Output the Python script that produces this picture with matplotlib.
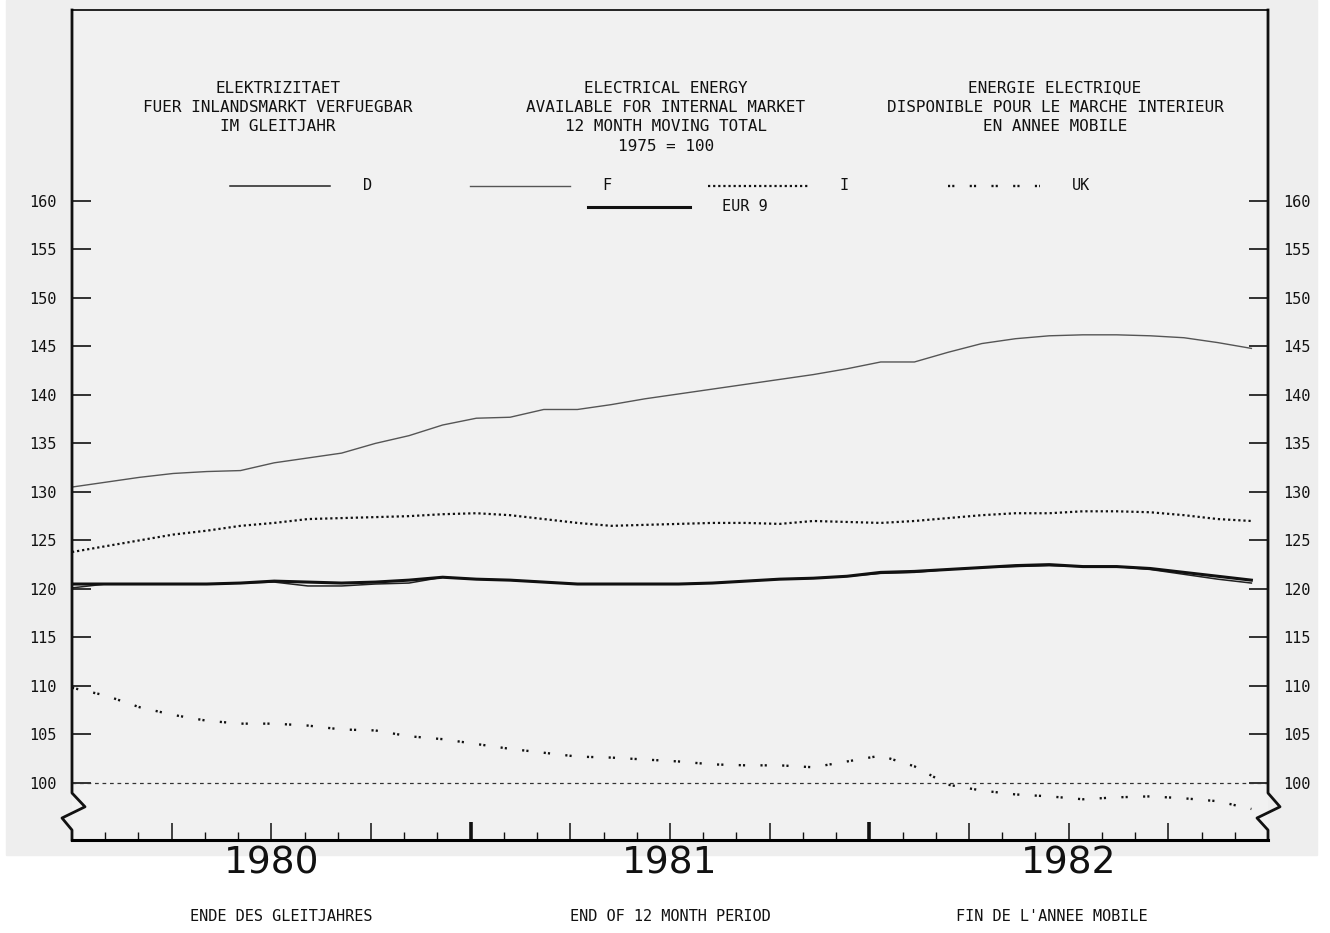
import numpy as np
import matplotlib
matplotlib.use("Agg")
import matplotlib.pyplot as plt
from matplotlib.patches import Rectangle

# 12-month moving totals, index 1975 = 100, one value per month Jan 1980 .. Dec 1982
month_idx = np.arange(36)

d_vals = [120.1, 120.5, 120.5, 120.5, 120.5, 120.6, 120.7, 120.3, 120.3, 120.5,
          120.6, 121.2, 121.0, 120.9, 120.7, 120.5, 120.5, 120.5, 120.5, 120.6,
          120.8, 121.0, 121.1, 121.3, 121.6, 121.7, 122.0, 122.2, 122.3, 122.4,
          122.3, 122.3, 122.0, 121.5, 121.0, 120.6]

f_vals = [130.5, 131.0, 131.5, 131.9, 132.1, 132.2, 133.0, 133.5, 134.0, 135.0,
          135.8, 136.9, 137.6, 137.7, 138.5, 138.5, 139.0, 139.6, 140.1, 140.6,
          141.1, 141.6, 142.1, 142.7, 143.4, 143.4, 144.4, 145.3, 145.8, 146.1,
          146.2, 146.2, 146.1, 145.9, 145.4, 144.8]

i_vals = [123.8, 124.4, 125.0, 125.6, 126.0, 126.5, 126.8, 127.2, 127.3, 127.4,
          127.5, 127.7, 127.8, 127.6, 127.2, 126.8, 126.5, 126.6, 126.7, 126.8,
          126.8, 126.7, 127.0, 126.9, 126.8, 127.0, 127.3, 127.6, 127.8, 127.8,
          128.0, 128.0, 127.9, 127.6, 127.2, 127.0]

uk_vals = [109.8, 109.0, 107.8, 107.0, 106.4, 106.1, 106.1, 105.9, 105.5, 105.4,
           104.8, 104.5, 104.0, 103.5, 103.1, 102.7, 102.6, 102.4, 102.2, 101.9,
           101.8, 101.8, 101.6, 102.2, 102.8, 101.7, 99.8, 99.2, 98.8, 98.6,
           98.3, 98.5, 98.6, 98.4, 98.1, 97.3]

eur_vals = [120.5, 120.5, 120.5, 120.5, 120.5, 120.6, 120.8, 120.7, 120.6, 120.7,
            120.9, 121.2, 121.0, 120.9, 120.7, 120.5, 120.5, 120.5, 120.5, 120.6,
            120.8, 121.0, 121.1, 121.3, 121.7, 121.8, 122.0, 122.2, 122.4, 122.5,
            122.3, 122.3, 122.1, 121.7, 121.3, 120.9]

years = ["1980", "1981", "1982"]
yticks = list(range(100, 165, 5))

title_de = "ELEKTRIZITAET\nFUER INLANDSMARKT VERFUEGBAR\nIM GLEITJAHR"
title_en = "ELECTRICAL ENERGY\nAVAILABLE FOR INTERNAL MARKET\n12 MONTH MOVING TOTAL\n1975 = 100"
title_fr = "ENERGIE ELECTRIQUE\nDISPONIBLE POUR LE MARCHE INTERIEUR\nEN ANNEE MOBILE"
foot_de = "ENDE DES GLEITJAHRES"
foot_en = "END OF 12 MONTH PERIOD"
foot_fr = "FIN DE L'ANNEE MOBILE"

mono = "DejaVu Sans Mono"
ink = "#111111"

# x position of each monthly point along the 36-month axis
xpos = month_idx * 35.5 / 35

fig = plt.figure(figsize=(13.3, 9.33), dpi=100, facecolor="white")
fig.patches.append(Rectangle((6 / 1330, 78 / 933), 1311 / 1330, 855 / 933,
                             transform=fig.transFigure, color="#eeeeee", zorder=-10))
ax = fig.add_axes([72 / 1330, 93 / 933, 1196 / 1330, 830 / 933])
ax.set_facecolor("#f1f1f1")

ax.set_xlim(0, 36)
ax.set_ylim(94.1, 179.7)

# series
ax.plot(xpos, f_vals, color="#555555", lw=1.0)
ax.plot(xpos, i_vals, color=ink, lw=1.6, linestyle=(0, (1.0, 1.3)))
ax.plot(xpos, uk_vals, color=ink, lw=1.7, linestyle=(0, (0.9, 0.9, 0.9, 6.5)))
ax.plot(xpos, d_vals, color="#222222", lw=1.1)
ax.plot(xpos, eur_vals, color=ink, lw=2.2)

# base line 1975 = 100
ax.axhline(100, color="#333333", lw=0.9, linestyle=(0, (3, 3)))

# frame: top line, thick bottom, side axes with break marks
for s in ["left", "right"]:
    ax.spines[s].set_visible(False)
ax.spines["top"].set_linewidth(1.2)
ax.spines["bottom"].set_linewidth(2.2)
ax.plot([0, 0, 13 / 1196, -10 / 1196, 0, 0], [1, 0.0566, 0.040, 0.0265, 0.012, 0],
        transform=ax.transAxes, color=ink, lw=2.0, clip_on=False)
ax.plot([1, 1, 1 + 12 / 1196, 1 - 11 / 1196, 1, 1], [1, 0.0566, 0.040, 0.0265, 0.012, 0],
        transform=ax.transAxes, color=ink, lw=2.0, clip_on=False)

# y axis ticks on both sides
ax.set_yticks(yticks)
ax.set_yticklabels([str(v) for v in yticks], fontfamily=mono)
ax.tick_params(axis="y", which="both", left=True, right=True, labelleft=True,
               labelright=True, direction="in", length=14, width=1.2, pad=11,
               labelsize=11, colors=ink)

# x axis: quarters long, months short, year boundaries thick
ax.set_xticks([q for q in range(3, 36, 3) if q % 12])
ax.set_xticks([m for m in range(1, 36) if m % 3], minor=True)
ax.tick_params(axis="x", which="major", direction="in", length=12, width=1.1,
               labelbottom=False, colors=ink)
ax.tick_params(axis="x", which="minor", direction="in", length=6, width=1.0, colors=ink)
ax.vlines([12, 24], 0, 0.022, transform=ax.get_xaxis_transform(), color=ink, lw=2.6)

xt = ax.get_xaxis_transform()
for k, yr in enumerate(years):
    ax.text(6 + 12 * k, -0.028, yr, transform=xt, ha="center", va="center",
            fontsize=27, family="DejaVu Sans", color=ink)
for xc, txt in zip([6.3, 18.0, 29.5], [foot_de, foot_en, foot_fr]):
    ax.text(xc, -0.0916, txt, transform=xt, ha="center", va="center",
            fontsize=11, family=mono, color=ink)

# headings
for xc, txt in [(0.172, title_de), (0.4967, title_en), (0.822, title_fr)]:
    ax.text(xc, 0.915, txt, transform=ax.transAxes, ha="center", va="top",
            fontsize=11.5, family=mono, color=ink, linespacing=1.37)

# key
keys = [
    ("D", 0.132, 0.216, 0.788, dict(color="#222222", lw=1.1)),
    ("F", 0.333, 0.416, 0.788, dict(color="#555555", lw=1.0)),
    ("I", 0.532, 0.615, 0.788, dict(color=ink, lw=1.6, linestyle=(0, (1.0, 1.3)))),
    ("UK", 0.7324, 0.809, 0.788, dict(color=ink, lw=1.7, linestyle=(0, (0.9, 0.9, 0.9, 6.5)))),
    ("EUR 9", 0.4314, 0.5167, 0.7627, dict(color=ink, lw=2.2)),
]
for name, x0, x1, yk, style in keys:
    ax.plot([x0, x1], [yk, yk], transform=ax.transAxes, **style)
    ax.text(x1 + 0.027, yk, name, transform=ax.transAxes, ha="left", va="center",
            fontsize=11, family=mono, color=ink)

fig.savefig("out.png", dpi=100, facecolor=fig.get_facecolor())
